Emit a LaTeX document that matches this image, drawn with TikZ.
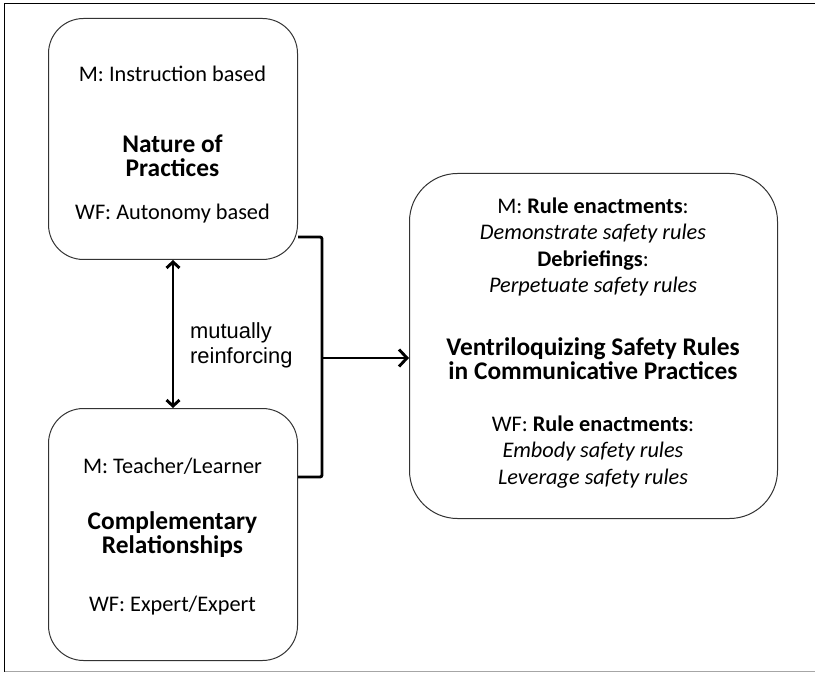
\documentclass[tikz,border=0pt]{standalone}
\usepackage{fontspec}
\setmainfont{Carlito}
\newfontfamily\notefont{Liberation Sans}
\usetikzlibrary{arrows.meta}

\tikzset{
  box/.style={draw=black!80, line width=1pt, rounded corners=35pt, inner sep=0pt, anchor=north west},
  txt/.style={inner sep=0pt, align=center, font=\fontsize{22.3}{26.5}\selectfont},
  ttl/.style={inner sep=0pt, align=center, font=\fontsize{25.4}{24}\selectfont\bfseries},
  link/.style={line width=2.9pt},
}

\begin{document}
\begin{tikzpicture}[x=1pt,y=-1pt]
  \useasboundingbox (0,0) rectangle (815,674);
  % outer frame
  \draw[line width=1pt] (815,3.5) -- (4.5,3.5) -- (4.5,671.5);
  \draw[line width=1pt, black!35] (4.5,671.5) -- (815,671.5);

  % the three boxes
  \node[box, minimum width=249pt, minimum height=241pt] (practices) at (48,18) {};
  \node[box, minimum width=249pt, minimum height=252pt] (relations) at (48,408) {};
  \node[box, minimum width=368pt, minimum height=345pt, rounded corners=48pt] (ventri) at (409,173) {};

  % left upper box
  \node[txt] (pm) at (172.5,74) {M: Instruction based};
  \node[ttl] (pt) at (172.5,156) {Nature of\\Practices};
  \node[txt] (pw) at (172.5,214) {WF: Autonomy based};

  % left lower box
  \node[txt] (rm) at (172.5,466) {M: Teacher/Learner};
  \node[ttl] (rt) at (172.5,535) {Complementary\\Relationships};
  \node[txt] (rw) at (172.5,606) {WF: Expert/Expert};

  % right box
  \node[txt] (vm) at (593,247) {M: \textbf{Rule enactments}:\\\textit{Demonstrate safety rules}\\\textbf{Debriefings}:\\\textit{Perpetuate safety rules}};
  \node[ttl] (vt) at (593,358.5) {Ventriloquizing Safety Rules\\in Communicative Practices};
  \node[txt] (vw) at (593,452) {WF: \textbf{Rule enactments}:\\\textit{Embody safety rules}\\\textit{Leverage safety rules}};

  % mutual link
  \draw[link, {Straight Barb[length=6pt,width=13pt]}-{Straight Barb[length=6pt,width=13pt]}] (practices) -- (relations);
  \node[inner sep=0pt, anchor=west, align=left, font=\notefont\fontsize{21.9}{25}\selectfont] (mutual) at (190,345.5) {mutually\\reinforcing};

  % bracket joining both boxes
  \coordinate (btop) at (298,237);
  \coordinate (bbot) at (298,477);
  \coordinate (bmid) at (322,358);
  \draw[link, rounded corners=2pt] (btop) -- (322,237) -- (322,477) -- (bbot);
  \draw[link, -{Straight Barb[length=8pt,width=17pt]}] (bmid) -- (bmid -| ventri.west);
\end{tikzpicture}
\end{document}
